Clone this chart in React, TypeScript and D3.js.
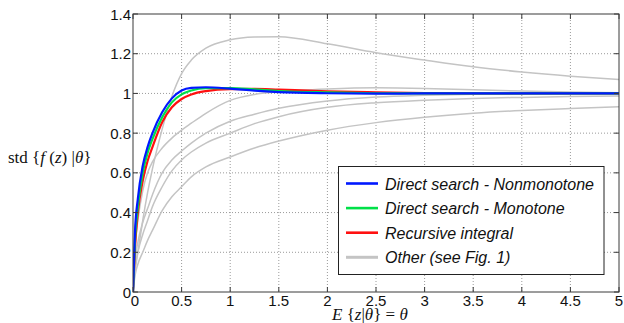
import { useMemo } from "react";
import * as d3 from "d3";

// sample points along E{z|θ}
const xs = [0, 0.02, 0.05, 0.1, 0.15, 0.2, 0.3, 0.4, 0.5, 0.6, 0.75, 1, 1.25, 1.5, 2, 2.5, 3, 3.5, 4, 4.5, 5];

const nonmonotone = [0, 0.3, 0.47, 0.635, 0.73, 0.8, 0.905, 0.975, 1.015, 1.028, 1.031, 1.024, 1.014, 1.007, 1.001, 0.999, 1.0, 1.0, 1.0, 1.0, 1.0];
const monotone = [0, 0.26, 0.43, 0.6, 0.7, 0.77, 0.88, 0.955, 0.995, 1.015, 1.027, 1.027, 1.02, 1.012, 1.005, 1.001, 1.0, 1.0, 1.0, 1.0, 1.0];
const recursive = [0, 0.22, 0.4, 0.56, 0.66, 0.73, 0.855, 0.93, 0.972, 0.995, 1.012, 1.022, 1.023, 1.019, 1.011, 1.006, 1.002, 1.0, 1.0, 1.0, 1.0];

const others = [
  [0, 0.1, 0.2, 0.36, 0.5, 0.62, 0.82, 0.985, 1.1, 1.168, 1.228, 1.27, 1.284, 1.286, 1.25, 1.205, 1.168, 1.134, 1.108, 1.087, 1.07],
  [0, 0.22, 0.36, 0.51, 0.6, 0.655, 0.725, 0.775, 0.815, 0.85, 0.9, 0.965, 0.995, 1.008, 1.022, 1.028, 1.025, 1.018, 1.012, 1.007, 1.004],
  [0, 0.15, 0.25, 0.35, 0.42, 0.49, 0.6, 0.665, 0.71, 0.75, 0.8, 0.86, 0.895, 0.925, 0.962, 0.982, 0.991, 0.996, 0.998, 1.0, 1.0],
  [0, 0.12, 0.2, 0.29, 0.36, 0.43, 0.53, 0.61, 0.665, 0.705, 0.75, 0.8, 0.848, 0.883, 0.93, 0.953, 0.966, 0.975, 0.98, 0.984, 0.987],
  [0, 0.08, 0.14, 0.2, 0.26, 0.31, 0.41, 0.48, 0.53, 0.58, 0.63, 0.68, 0.725, 0.76, 0.815, 0.853, 0.88, 0.9, 0.914, 0.924, 0.933],
];

const xTicks = [0, 0.5, 1, 1.5, 2, 2.5, 3, 3.5, 4, 4.5, 5];
const yTicks = [0, 0.2, 0.4, 0.6, 0.8, 1, 1.2, 1.4];

const legendItems = [
  { label: "Direct search - Nonmonotone", color: "#0018ff", w: 2.6 },
  { label: "Direct search - Monotone", color: "#00e048", w: 2.6 },
  { label: "Recursive integral", color: "#ff1010", w: 2.6 },
  { label: "Other (see Fig. 1)", color: "#c4c4c4", w: 3 },
];

const W = 624;
const H = 323;
const m = { left: 133, right: 619, top: 14, bottom: 292 };

export default function App() {
  const x = d3.scaleLinear().domain([0, 5]).range([m.left, m.right]);
  const y = d3.scaleLinear().domain([0, 1.4]).range([m.bottom, m.top]);

  const line = useMemo(
    () =>
      d3
        .line<number>()
        .x((_, i) => x(xs[i]))
        .y((d) => y(d))
        .curve(d3.curveMonotoneX),
    []
  );

  const tickFont = { fontFamily: "Liberation Sans, Arial, sans-serif", fontSize: 15, fill: "#111" };

  return (
    <svg width={W} height={H} style={{ position: "absolute", left: 0, top: 0, background: "#fff" }}>
      <defs>
        <clipPath id="plot">
          <rect x={m.left} y={m.top} width={m.right - m.left} height={m.bottom - m.top} />
        </clipPath>
      </defs>
      <rect x={0} y={0} width={W} height={H} fill="#fff" />

      {/* grid */}
      <g stroke="#9a9a9a" strokeWidth={1} strokeDasharray="1,2">
        {xTicks.slice(1, -1).map((t) => (
          <line key={"gx" + t} x1={x(t)} x2={x(t)} y1={m.top} y2={m.bottom} />
        ))}
        {yTicks.slice(1, -1).map((t) => (
          <line key={"gy" + t} x1={m.left} x2={m.right} y1={y(t)} y2={y(t)} />
        ))}
      </g>

      {/* curves */}
      <g clipPath="url(#plot)" fill="none" strokeLinejoin="round">
        {others.map((s, i) => (
          <path key={"o" + i} d={line(s) ?? ""} stroke="#c4c4c4" strokeWidth={1.5} />
        ))}
        <path d={line(recursive) ?? ""} stroke="#ff1010" strokeWidth={2.2} />
        <path d={line(monotone) ?? ""} stroke="#00e048" strokeWidth={2.2} />
        <path d={line(nonmonotone) ?? ""} stroke="#0018ff" strokeWidth={2.2} />
      </g>

      {/* frame and ticks */}
      <g stroke="#3a3a3a" strokeWidth={1}>
        <rect x={m.left} y={m.top} width={m.right - m.left} height={m.bottom - m.top} fill="none" />
        {xTicks.map((t) => (
          <g key={"tx" + t}>
            <line x1={x(t)} x2={x(t)} y1={m.bottom} y2={m.bottom - 5} />
            <line x1={x(t)} x2={x(t)} y1={m.top} y2={m.top + 5} />
          </g>
        ))}
        {yTicks.map((t) => (
          <g key={"ty" + t}>
            <line x1={m.left} x2={m.left + 5} y1={y(t)} y2={y(t)} />
            <line x1={m.right} x2={m.right - 5} y1={y(t)} y2={y(t)} />
          </g>
        ))}
      </g>

      {/* tick labels */}
      {yTicks.map((t) => (
        <text key={"ly" + t} x={131} y={y(t) + 5.5} textAnchor="end" {...tickFont}>
          {d3.format("~g")(t)}
        </text>
      ))}
      {xTicks.map((t) => (
        <text key={"lx" + t} x={t === 0 ? x(t) + 2 : x(t)} y={306} textAnchor="middle" {...tickFont}>
          {d3.format("~g")(t)}
        </text>
      ))}

      {/* axis labels */}
      <text x={8} y={163} fontFamily="Liberation Serif, Times New Roman, serif" fontSize={17} fill="#111">
        std {"{"}
        <tspan fontStyle="italic">f</tspan> (<tspan fontStyle="italic">z</tspan>) |
        <tspan fontStyle="italic">θ</tspan>
        {"}"}
      </text>
      <text x={332} y={319.5} fontFamily="Liberation Serif, Times New Roman, serif" fontSize={17} fill="#111">
        <tspan fontStyle="italic">E</tspan> {"{"}
        <tspan fontStyle="italic">z</tspan>|<tspan fontStyle="italic">θ</tspan>
        {"} = "}
        <tspan fontStyle="italic">θ</tspan>
      </text>

      {/* legend */}
      <g>
        <rect x={338.5} y={166.5} width={265.5} height={108} fill="#fff" stroke="#222" strokeWidth={1} />
        {legendItems.map((it, i) => {
          const cy = 183.5 + i * 24.6;
          return (
            <g key={it.label}>
              <line x1={346} x2={378} y1={cy} y2={cy} stroke={it.color} strokeWidth={it.w} />
              <text
                x={385}
                y={cy + 6}
                fontFamily="Liberation Sans, Arial, sans-serif"
                fontStyle="italic"
                fontSize={16}
                fill="#111"
              >
                {it.label}
              </text>
            </g>
          );
        })}
      </g>
    </svg>
  );
}
